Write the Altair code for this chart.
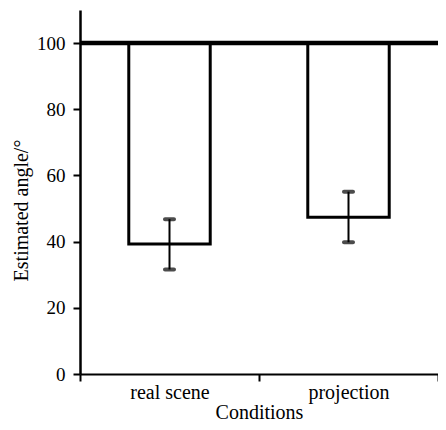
import altair as alt
import pandas as pd

conditions = ["real scene", "projection"]
means = [39.3, 47.4]
err_low = [31.6, 39.8]
err_high = [46.8, 55.1]
reference_value = [100]

df = pd.DataFrame({"cond": conditions, "mean": means, "lo": err_low, "hi": err_high})
ref = pd.DataFrame({"ref": reference_value})

FONT = "'Times New Roman', 'Liberation Serif', serif"

x = alt.X("cond:N", sort=conditions, title="Conditions",
          scale=alt.Scale(paddingInner=0, paddingOuter=0),
          axis=alt.Axis(labelAngle=0, tickBand="extent", domainWidth=2, tickWidth=2,
                        tickSize=7, labelPadding=1, titlePadding=0,
                        domainColor="black", tickColor="black",
                        labelFont=FONT, titleFont=FONT, labelFontSize=20, titleFontSize=20,
                        titleFontWeight="normal", labelColor="black", titleColor="black"))
xs = alt.X("cond:N", sort=conditions)
yscale = alt.Scale(domain=[0, 110], nice=False)
y = alt.Y("mean:Q", scale=yscale, title="Estimated angle/°",
          axis=alt.Axis(values=[0, 20, 40, 60, 80, 100], grid=False, domainWidth=2.5,
                        tickWidth=2, tickSize=7, labelPadding=8, titlePadding=5,
                        titleY=200, domainColor="black", tickColor="black",
                        labelFont=FONT, titleFont=FONT, labelFontSize=19, titleFontSize=20,
                        titleFontWeight="normal", labelColor="black", titleColor="black"))

bars = alt.Chart(df).mark_bar(fill="white", stroke="black", strokeWidth=3,
                              width={"band": 0.455}).encode(
    x=x, y=y, y2=alt.datum(100))

err = alt.Chart(df).mark_rule(color="black", strokeWidth=2).encode(
    x=xs, y="lo:Q", y2="hi:Q")
caps_lo = alt.Chart(df).mark_tick(color="black", thickness=4, size=13, cornerRadius=2).encode(
    x=xs, y="lo:Q")
caps_hi = alt.Chart(df).mark_tick(color="black", thickness=4, size=13, cornerRadius=2).encode(
    x=xs, y="hi:Q")

refline = alt.Chart(ref).mark_rule(color="black", strokeWidth=4.5).encode(y="ref:Q")

chart = alt.layer(bars, err, caps_lo, caps_hi, refline).properties(
    width=358, height=364,
    autosize=alt.AutoSizeParams(type="none"),
    padding={"left": 72, "top": 2, "right": 0, "bottom": 47},
).configure_view(stroke=None)

chart.save("out.html", embed_options={"renderer": "svg", "actions": False})
